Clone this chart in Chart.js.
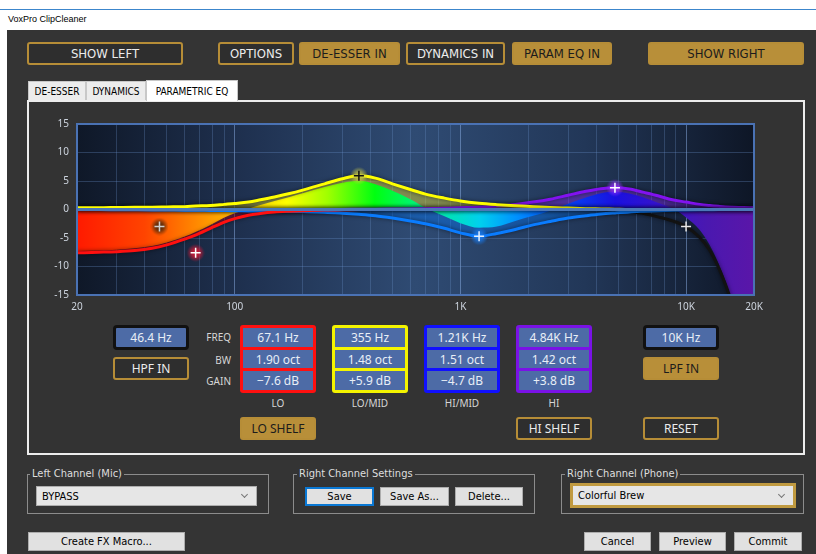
<!DOCTYPE html>
<html>
<head>
<meta charset="utf-8">
<title>VoxPro ClipCleaner</title>
<script src="https://cdn.jsdelivr.net/npm/chart.js@4.4.1/dist/chart.umd.min.js"></script>
<style>
  html, body { margin: 0; padding: 0; }
  body { width: 816px; height: 554px; overflow: hidden; position: relative; background: #fff;
         font-family: "Liberation Sans Narrow", "DejaVu Sans Condensed", "Liberation Sans", sans-serif; }
  .abs { position: absolute; box-sizing: border-box; }
  .flex { display: flex; align-items: center; justify-content: center; white-space: nowrap; }
  #topline { left: 0; top: 9px; width: 816px; height: 1px; background: #3c86cc; }
  #title { left: 8px; top: 14px; font: 9px "Liberation Sans", sans-serif; color: #000; }
  #main { left: 7px; top: 30px; width: 809px; height: 524px; background: #343434; }
  .btn { top: 42px; height: 23px; border: 2px solid #b68d37; border-radius: 3px; background: #2e2e2e;
         color: #ececec; font-size: 13px; }
  .btn.on, .pbtn.on { background: #b88f39; color: #1c1c1c; }
  .tab { top: 81px; height: 19px; background: #ececec; border: 1px solid #c8c8c8; border-bottom: none;
         font-size: 10px; color: #000; }
  .tab.act { top: 80px; height: 21px; background: #fff; z-index: 2; }
  #panel { left: 27px; top: 100px; width: 778px; height: 355px; border: 2px solid #ececec; background: #333; }
  #eq { position: absolute; left: 30px; top: 110px; }
  .val { background: #4d6ba6; color: #e8eef6; font: 12px "Noto Sans", sans-serif; flex: 1; }
  .grp { top: 325px; width: 76px; height: 68px; padding: 3px; border-radius: 3px;
         display: flex; flex-direction: column; gap: 3px; }
  .fbox { top: 325px; width: 76px; height: 25px; border: 3px solid #111; border-radius: 4px;
          background: #4d6ba6; color: #e8eef6; font: 12px "Noto Sans", sans-serif; }
  .pbtn { width: 76px; height: 23px; border: 2px solid #b68d37; border-radius: 3px; background: #2e2e2e;
          color: #ececec; font: 12px "Noto Sans", sans-serif; }
  .lbl { font: 10px "Noto Sans", sans-serif; color: #d6d6d6; }
  .gb { top: 474px; height: 40px; border: 1px solid #8c8c8c; }
  .lg { top: 467px; font-size: 11px; color: #dedede; background: #343434; padding: 0 2px; }
  .cb { background: #e6e6e6; border: 1px solid #adadad; font-size: 11px; color: #000; padding-left: 5px;
        display: flex; align-items: center; }
  .cb::after { content: ""; position: absolute; right: 9px; top: 50%; width: 4px; height: 4px; margin-top: -4px;
               border-right: 1px solid #777; border-bottom: 1px solid #777; transform: rotate(45deg); }
  .wb { background: #e1e1e1; border: 1px solid #adadad; font-size: 11px; color: #000; }
</style>
</head>
<body>
<div class="abs" id="topline"></div>
<div class="abs" id="title">VoxPro ClipCleaner</div>
<div class="abs" id="main"></div>

<div class="abs btn flex" style="left:27px;width:156px">SHOW LEFT</div>
<div class="abs btn flex" style="left:218px;width:76px">OPTIONS</div>
<div class="abs btn flex on" style="left:299px;width:101px">DE-ESSER IN</div>
<div class="abs btn flex" style="left:406px;width:99px">DYNAMICS IN</div>
<div class="abs btn flex on" style="left:512px;width:100px">PARAM EQ IN</div>
<div class="abs btn flex on" style="left:648px;width:156px">SHOW RIGHT</div>

<div class="abs tab flex" style="left:28px;width:58px">DE-ESSER</div>
<div class="abs tab flex" style="left:86px;width:60px">DYNAMICS</div>
<div class="abs tab flex act" style="left:146px;width:92px">PARAMETRIC EQ</div>
<div class="abs" id="panel"></div>

<canvas id="eq" width="740" height="203"></canvas>

<!-- band controls -->
<div class="abs fbox flex" style="left:113px">46.4 Hz</div>
<div class="abs pbtn flex" style="left:113px;top:357px">HPF IN</div>

<div class="abs lbl" style="left:190px;width:41px;top:330px;text-align:right">FREQ</div>
<div class="abs lbl" style="left:190px;width:41px;top:353px;text-align:right">BW</div>
<div class="abs lbl" style="left:190px;width:41px;top:374px;text-align:right">GAIN</div>

<div class="abs grp" style="left:240px;background:#ff1010">
  <div class="val flex">67.1 Hz</div><div class="val flex">1.90 oct</div><div class="val flex">−7.6 dB</div>
</div>
<div class="abs grp" style="left:332px;background:#f4f400">
  <div class="val flex">355 Hz</div><div class="val flex">1.48 oct</div><div class="val flex">+5.9 dB</div>
</div>
<div class="abs grp" style="left:424px;background:#1010ff">
  <div class="val flex">1.21K Hz</div><div class="val flex">1.51 oct</div><div class="val flex">−4.7 dB</div>
</div>
<div class="abs grp" style="left:516px;background:#7a12e6">
  <div class="val flex">4.84K Hz</div><div class="val flex">1.42 oct</div><div class="val flex">+3.8 dB</div>
</div>

<div class="abs lbl" style="left:240px;width:76px;top:396px;text-align:center">LO</div>
<div class="abs lbl" style="left:332px;width:76px;top:396px;text-align:center">LO/MID</div>
<div class="abs lbl" style="left:424px;width:76px;top:396px;text-align:center">HI/MID</div>
<div class="abs lbl" style="left:516px;width:76px;top:396px;text-align:center">HI</div>

<div class="abs fbox flex" style="left:643px">10K Hz</div>
<div class="abs pbtn flex on" style="left:643px;top:357px">LPF IN</div>

<div class="abs pbtn flex on" style="left:240px;top:417px">LO SHELF</div>
<div class="abs pbtn flex" style="left:516px;top:417px">HI SHELF</div>
<div class="abs pbtn flex" style="left:643px;top:417px">RESET</div>

<!-- bottom group boxes -->
<div class="abs gb" style="left:27px;width:242px"></div>
<div class="abs lg" style="left:30px">Left Channel (Mic)</div>
<div class="abs cb" style="left:36px;top:486px;width:221px;height:20px">BYPASS</div>

<div class="abs gb" style="left:293px;width:242px"></div>
<div class="abs lg" style="left:297px">Right Channel Settings</div>
<div class="abs wb flex" style="left:305px;top:487px;width:69px;height:19px;border:2px solid #0a78d4">Save</div>
<div class="abs wb flex" style="left:380px;top:487px;width:69px;height:19px">Save As...</div>
<div class="abs wb flex" style="left:455px;top:487px;width:68px;height:19px">Delete...</div>

<div class="abs gb" style="left:561px;width:243px"></div>
<div class="abs lg" style="left:565px">Right Channel (Phone)</div>
<div class="abs cb" style="left:570px;top:483px;width:226px;height:25px;border:3px solid #c09a40">Colorful Brew</div>

<div class="abs wb flex" style="left:28px;top:532px;width:157px;height:19px">Create FX Macro...</div>
<div class="abs wb flex" style="left:584px;top:532px;width:67px;height:19px">Cancel</div>
<div class="abs wb flex" style="left:659px;top:532px;width:67px;height:19px">Preview</div>
<div class="abs wb flex" style="left:734px;top:532px;width:68px;height:19px">Commit</div>

<script>
// frequencies (Hz) the curves were read at
const freqs = [20, 25, 30, 36, 43, 50, 60, 67, 78, 90,
  100, 115, 130, 150, 175, 200, 250, 300, 355, 420,
  500, 600, 700, 850, 1000, 1210, 1450, 1750, 2100, 2500,
  3000, 3600, 4200, 4840, 5600, 6500, 7500, 8700, 10000, 11500,
  12700, 13900, 14900, 16000, 18000, 20000];

// band responses (dB), one value per frequency
const loGain = [-7.6, -7.5, -7.4, -7.2, -6.8, -6.2, -5.2, -4.5, -3.3, -2.2,
  -1.6, -1.0, -0.7, -0.45, -0.3, -0.2, -0.1, -0.05, 0, 0,
  0, 0, 0, 0, 0, 0, 0, 0, 0, 0,
  0, 0, 0, 0, 0, 0, 0, 0, 0, 0,
  0, 0, 0, 0, 0, 0];
const loMidGain = [0.3, 0.3, 0.35, 0.4, 0.4, 0.45, 0.5, 0.6, 0.7, 0.9,
  1.05, 1.3, 1.7, 2.2, 2.8, 3.4, 4.5, 5.4, 5.9, 5.5,
  4.5, 3.5, 2.7, 2.0, 1.5, 1.1, 0.85, 0.65, 0.5, 0.35,
  0.25, 0.15, 0.1, 0.05, 0, 0, 0, 0, 0, 0,
  0, 0, 0, 0, 0, 0];
const hiMidGain = [0, -0.02, -0.04, -0.06, -0.08, -0.1, -0.12, -0.14, -0.16, -0.18,
  -0.2, -0.25, -0.28, -0.3, -0.33, -0.37, -0.47, -0.65, -0.85, -1.1,
  -1.5, -2.0, -2.5, -3.3, -4.1, -4.7, -4.2, -3.5, -2.7, -2.1,
  -1.5, -1.1, -0.8, -0.6, -0.42, -0.3, -0.2, -0.12, -0.08, -0.05,
  -0.03, -0.02, -0.01, 0, 0, 0];
const hiGain = [0, 0, 0, 0, 0, 0, 0, 0, 0, 0,
  0, 0, 0, 0, 0, 0, 0, 0, 0.05, 0.06,
  0.08, 0.1, 0.15, 0.2, 0.3, 0.4, 0.6, 0.9, 1.3, 1.8,
  2.5, 3.2, 3.65, 3.8, 3.6, 3.0, 2.4, 1.7, 1.3, 0.9,
  0.7, 0.55, 0.45, 0.4, 0.35, 0.3];
const lpfGain = [0, 0, 0, 0, 0, 0, 0, 0, 0, 0,
  0, 0, 0, 0, 0, 0, 0, 0, 0, 0,
  0, 0, 0, 0, 0, 0, 0, 0, 0, 0,
  0, 0, 0, -0.1, -0.35, -0.7, -1.3, -2.0, -3.0, -4.9,
  -7.1, -10.1, -13.0, -16.5, -23, -30];
// combined response (rainbow fill)
const totalGain = [-7.3, -7.2, -7.05, -6.8, -6.4, -5.8, -4.75, -3.95, -2.7, -1.4,
  -0.65, 0.15, 0.8, 1.5, 2.2, 2.85, 3.95, 4.7, 5.05, 4.45,
  3.3, 1.8, 0.3, -1.2, -2.4, -3.2, -3.0, -2.0, -1.1, -0.2,
  1.0, 2.1, 2.85, 3.15, 2.8, 2.1, 1.2, 0.2, -1.4, -3.6,
  -6.2, -9.4, -12.4, -16, -22.5, -29.5];

// filter handles: HPF, LO, LO/MID, HI/MID, HI, LPF
const markerFreqs = [46.4, 67.1, 355, 1210, 4840, 10000];
const markerGains = [-3, -7.6, 5.9, -4.7, 3.8, -3];

// axis ticks
const gridFreqs = [20, 30, 40, 50, 60, 70, 80, 90, 100, 200, 300, 400, 500, 600, 700, 800, 900,
  1000, 2000, 3000, 4000, 5000, 6000, 7000, 8000, 9000, 10000, 20000];
const labelFreqs = [20, 100, 1000, 10000, 20000];
const labelTexts = ['20', '100', '1K', '10K', '20K'];
const gainTicks = [-15, -10, -5, 0, 5, 10, 15];

// marker looks
const crossColors = ['#d0d0d0', '#ffffff', '#111111', '#e4f0ff', '#ffffff', '#e8e8e8'];
const glowColors = ['60,36,12', '225,25,55', '205,205,70', '25,130,255', '150,50,255', '0,0,0'];
const glowAlpha = [0.9, 0.9, 0.85, 0.85, 0.85, 0];

const pts = vals => freqs.map((f, i) => ({ x: f, y: vals[i] }));

function glowImage(rgb, alpha, r) {
  const c = document.createElement('canvas');
  c.width = c.height = r * 2;
  const g = c.getContext('2d');
  const rg = g.createRadialGradient(r, r, 0, r, r, r);
  rg.addColorStop(0, `rgba(${rgb},${alpha})`);
  rg.addColorStop(0.45, `rgba(${rgb},${alpha * 0.8})`);
  rg.addColorStop(1, `rgba(${rgb},0)`);
  g.fillStyle = rg;
  g.fillRect(0, 0, r * 2, r * 2);
  return c;
}

function rainbow(ctx) {
  const a = ctx.chart.chartArea;
  if (!a) return 'transparent';
  const g = ctx.chart.ctx.createLinearGradient(a.left, 0, a.right, 0);
  const stops = [
    [0, '#ff1a00'], [0.1, '#ff4400'], [0.16, '#ff7a00'], [0.22, '#ffb000'], [0.27, '#ffe000'],
    [0.31, '#ffff00'], [0.37, '#a0ff00'], [0.44, '#00ff10'], [0.515, '#00f090'], [0.595, '#00d0ee'],
    [0.65, '#0090ff'], [0.705, '#0050f8'], [0.795, '#1a10e0'], [0.87, '#3a14c8'], [0.93, '#4a18b0'],
    [1, '#5a16a8']];
  stops.forEach(s => g.addColorStop(s[0], s[1]));
  return g;
}

const markers = markerFreqs.map((f, i) => ({ x: f, y: markerGains[i] }));
const glows = glowColors.map((c, i) => glowImage(c, glowAlpha[i], 9));

function lineSet(vals, color) {
  return { data: pts(vals), borderColor: color, borderWidth: 3, fill: false, pointRadius: 0,
           cubicInterpolationMode: 'monotone', clip: 0, shadowed: true };
}
function fillSet(vals, color) {
  return { data: pts(vals), borderWidth: 0, borderColor: 'transparent', backgroundColor: color,
           fill: 'origin', pointRadius: 0, cubicInterpolationMode: 'monotone', clip: 0 };
}

const eqPlugin = {
  id: 'eqPlugin',
  beforeDraw(chart) {
    const { ctx, chartArea: a } = chart;
    const g = ctx.createLinearGradient(a.left, 0, a.right, 0);
    g.addColorStop(0, '#0f1828');
    g.addColorStop(0.25, '#1f3150');
    g.addColorStop(0.5, '#2f4b73');
    g.addColorStop(0.75, '#223758');
    g.addColorStop(1, '#0e1626');
    ctx.save();
    ctx.fillStyle = g;
    ctx.fillRect(a.left, a.top, a.right - a.left, a.bottom - a.top);
    ctx.restore();
  },
  beforeDatasetDraw(chart, args) {
    if (chart.data.datasets[args.index].shadowed) {
      chart.ctx.shadowColor = 'rgba(0,0,0,0.55)';
      chart.ctx.shadowBlur = 4;
    }
  },
  afterDatasetDraw(chart, args) {
    const ctx = chart.ctx;
    ctx.shadowColor = 'transparent';
    ctx.shadowBlur = 0;
    if (args.index !== 2) return;
    // zero line sits over the curves
    const a = chart.chartArea;
    const y0 = chart.scales.y.getPixelForValue(0);
    ctx.save();
    ctx.strokeStyle = '#4b78b8';
    ctx.lineWidth = 3;
    ctx.beginPath();
    ctx.moveTo(a.left, y0);
    ctx.lineTo(a.right, y0);
    ctx.stroke();
    ctx.restore();
  },
  afterDatasetsDraw(chart) {
    const { ctx, chartArea: a } = chart;
    ctx.save();
    ctx.strokeStyle = '#4a72b4';
    ctx.lineWidth = 2;
    ctx.strokeRect(a.left, a.top, a.right - a.left, a.bottom - a.top);
    ctx.restore();
  }
};

new Chart(document.getElementById('eq'), {
  type: 'line',
  data: {
    datasets: [
      { data: markers, showLine: false, pointStyle: 'cross', pointRadius: 5, pointBorderWidth: 1.5,
        pointBorderColor: crossColors, clip: 0 },
      { data: markers, showLine: false, pointStyle: glows, pointRadius: 8, clip: 0 },
      lineSet(loGain, '#ff1010'),
      lineSet(loMidGain, '#ffff00'),
      lineSet(hiMidGain, '#0a7cff'),
      lineSet(hiGain, '#8212f0'),
      lineSet(lpfGain, '#121212'),
      fillSet(totalGain, rainbow),
      fillSet(loGain, 'rgba(210,0,30,0.38)'),
      fillSet(loMidGain, 'rgba(230,220,40,0.45)'),
      fillSet(hiMidGain, 'rgba(0,120,255,0.4)'),
      fillSet(hiGain, 'rgba(140,40,255,0.4)')
    ]
  },
  options: {
    responsive: false,
    animation: false,
    events: [],
    layout: { padding: { top: 12, right: 16, left: 0, bottom: 0 } },
    plugins: { legend: { display: false }, tooltip: { enabled: false } },
    scales: {
      x: {
        type: 'logarithmic', min: 20, max: 20000,
        afterBuildTicks: s => { s.ticks = gridFreqs.map(v => ({ value: v })); },
        afterFit: s => { s.height = 18; },
        border: { display: false },
        grid: {
          drawTicks: false,
          color: c => [100, 1000, 10000].includes(c.tick.value) ? 'rgba(140,175,230,0.5)' : 'rgba(110,150,210,0.28)',
          lineWidth: 1
        },
        ticks: {
          autoSkip: false, maxRotation: 0, padding: 6, color: '#cdd4de',
          font: { family: "'Noto Sans', sans-serif", size: 10 },
          callback: v => { const i = labelFreqs.indexOf(v); return i < 0 ? '' : labelTexts[i]; }
        }
      },
      y: {
        min: -15, max: 15,
        afterBuildTicks: s => { s.ticks = gainTicks.map(v => ({ value: v })); },
        afterFit: s => { s.width = 47; },
        border: { display: false },
        grid: {
          drawTicks: false,
          color: c => c.tick.value === 0 ? 'transparent' : 'rgba(110,150,210,0.3)'
        },
        ticks: { padding: 8, color: '#cdd4de', font: { family: "'Noto Sans', sans-serif", size: 10 } }
      }
    }
  },
  plugins: [eqPlugin]
});
</script>
</body>
</html>
